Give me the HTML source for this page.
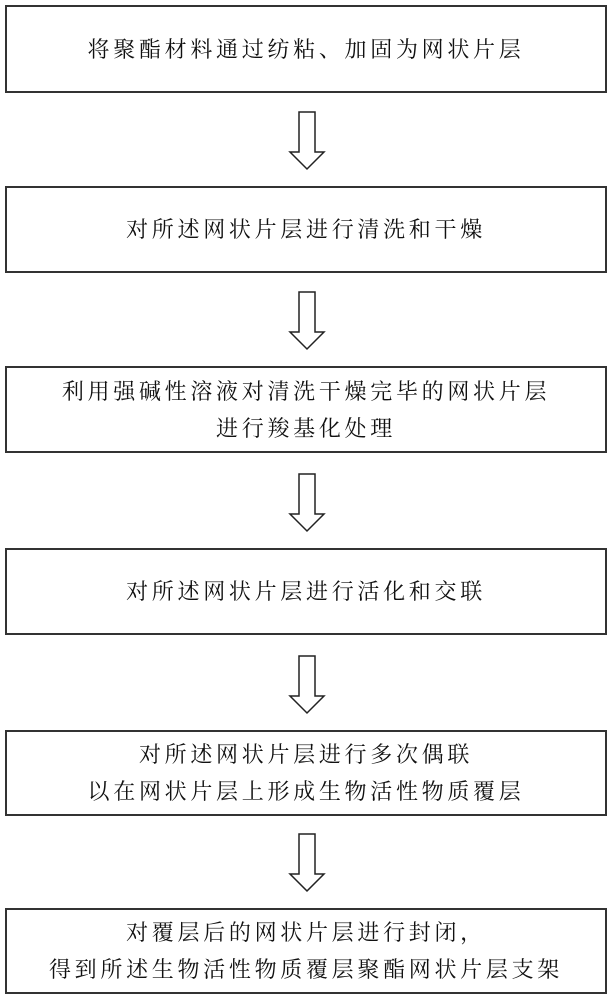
<!DOCTYPE html>
<html><head><meta charset="utf-8"><style>
body{margin:0;width:615px;height:1000px;background:#fff;position:relative;overflow:hidden;font-family:"Liberation Serif","Noto Serif CJK SC","Noto Sans CJK SC",serif;}
.b{position:absolute;left:5px;width:602px;border:2px solid #333;box-sizing:border-box;display:flex;align-items:center;justify-content:center;text-align:center;font-size:22px;letter-spacing:3.7px;line-height:37px;color:#111;}
svg{position:absolute;left:0;top:0}
</style></head><body>
<div class="b" style="top:5px;height:88px">将聚酯材料通过纺粘、加固为网状片层</div>
<div class="b" style="top:186px;height:87px">对所述网状片层进行清洗和干燥</div>
<div class="b" style="top:366px;height:87px">利用强碱性溶液对清洗干燥完毕的网状片层<br>进行羧基化处理</div>
<div class="b" style="top:548px;height:87px">对所述网状片层进行活化和交联</div>
<div class="b" style="top:730px;height:86px">对所述网状片层进行多次偶联<br>以在网状片层上形成生物活性物质覆层</div>
<div class="b" style="top:908px;height:86px">对覆层后的网状片层进行封闭，<br>得到所述生物活性物质覆层聚酯网状片层支架</div>
<svg width="615" height="1000">
<g fill="#fff" stroke="#222" stroke-width="1.5">
<path id="a" d="M299,112 H315 V152 H324 L307,169 L290,152 H299 Z"/>
<use href="#a" y="180"/>
<use href="#a" y="362"/>
<use href="#a" y="544"/>
<use href="#a" y="722"/>
</g>
</svg>
</body></html>
